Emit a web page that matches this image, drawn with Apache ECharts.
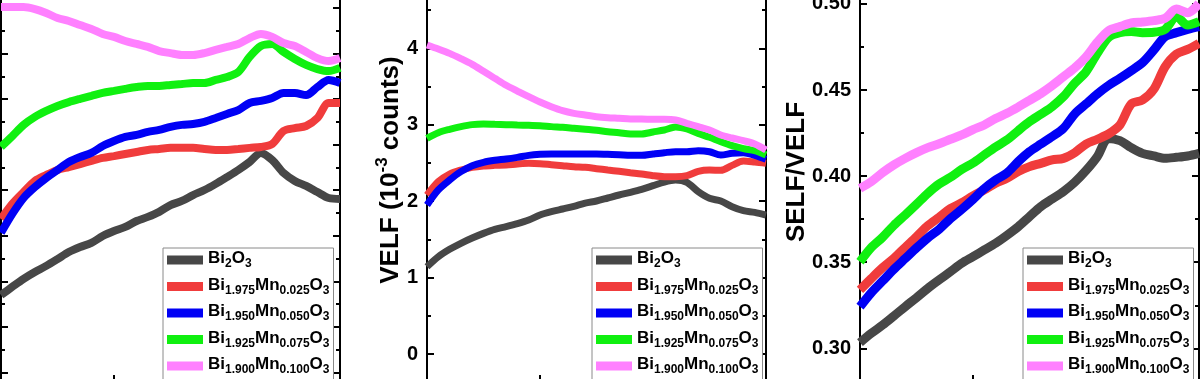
<!DOCTYPE html>
<html>
<head>
<meta charset="utf-8">
<script src="https://cdn.jsdelivr.net/npm/echarts@6/dist/echarts.min.js"></script>
<style>
html, body { margin: 0; padding: 0; background: #fff; }
#chart { width: 1200px; height: 379px; }
</style>
</head>
<body>
<div id="chart"></div>
<script>
// x positions (arbitrary energy units, axis labels are cropped in the source)
var xValues = [0, 1, 2, 3, 4, 5, 6, 7, 8, 9, 10, 11, 12, 13, 14, 15, 16, 17, 18, 19, 20, 21, 22, 23, 24, 25, 26, 27, 28, 29, 30];

var seriesNames = ['Bi2O3', 'Bi1.975Mn0.025O3', 'Bi1.950Mn0.050O3', 'Bi1.925Mn0.075O3', 'Bi1.900Mn0.100O3'];
var legendLabels = [
    '{m|Bi}{s|2}{m|O}{s|3}',
    '{m|Bi}{s|1.975}{m|Mn}{s|0.025}{m|O}{s|3}',
    '{m|Bi}{s|1.950}{m|Mn}{s|0.050}{m|O}{s|3}',
    '{m|Bi}{s|1.925}{m|Mn}{s|0.075}{m|O}{s|3}',
    '{m|Bi}{s|1.900}{m|Mn}{s|0.100}{m|O}{s|3}'
];
var colors = ['#474747', '#f03c3c', '#0000f5', '#10f010', '#ff80ff'];

// panel 1 : SELF (10^-3 counts)
var selfBi2O3 = [0.340, 0.376, 0.411, 0.441, 0.468, 0.498, 0.529, 0.551, 0.569, 0.599, 0.621, 0.639, 0.665, 0.683, 0.705, 0.735, 0.753, 0.779, 0.801, 0.828, 0.858, 0.889, 0.924, 0.964, 0.933, 0.876, 0.841, 0.819, 0.792, 0.766, 0.762];
var selfMn025 = [0.674, 0.740, 0.792, 0.841, 0.867, 0.889, 0.902, 0.915, 0.929, 0.942, 0.950, 0.959, 0.968, 0.977, 0.981, 0.986, 0.986, 0.986, 0.981, 0.977, 0.977, 0.981, 0.986, 0.990, 1.003, 1.060, 1.073, 1.082, 1.117, 1.183, 1.183];
var selfMn050 = [0.613, 0.696, 0.766, 0.814, 0.854, 0.889, 0.924, 0.946, 0.964, 0.994, 1.016, 1.034, 1.043, 1.056, 1.065, 1.078, 1.087, 1.091, 1.100, 1.117, 1.135, 1.152, 1.183, 1.192, 1.205, 1.227, 1.227, 1.218, 1.253, 1.284, 1.271];
var selfMn075 = [0.990, 1.038, 1.087, 1.122, 1.148, 1.170, 1.187, 1.201, 1.214, 1.227, 1.236, 1.245, 1.253, 1.258, 1.258, 1.262, 1.266, 1.271, 1.271, 1.284, 1.297, 1.319, 1.385, 1.433, 1.442, 1.407, 1.376, 1.350, 1.332, 1.323, 1.337];
var selfMn100 = [1.604, 1.604, 1.604, 1.595, 1.578, 1.556, 1.543, 1.525, 1.508, 1.486, 1.473, 1.455, 1.442, 1.429, 1.411, 1.402, 1.394, 1.394, 1.402, 1.416, 1.429, 1.442, 1.468, 1.486, 1.473, 1.446, 1.433, 1.407, 1.380, 1.367, 1.380];

// panel 2 : VELF (10^-3 counts)
var velfBi2O3 = [1.143, 1.274, 1.370, 1.449, 1.518, 1.579, 1.632, 1.667, 1.706, 1.754, 1.819, 1.863, 1.898, 1.933, 1.976, 2.003, 2.042, 2.081, 2.116, 2.155, 2.203, 2.251, 2.277, 2.247, 2.125, 2.038, 2.003, 1.928, 1.876, 1.854, 1.819];
var velfMn025 = [2.081, 2.256, 2.356, 2.408, 2.443, 2.461, 2.469, 2.474, 2.487, 2.496, 2.491, 2.478, 2.465, 2.452, 2.443, 2.426, 2.408, 2.391, 2.373, 2.356, 2.334, 2.321, 2.321, 2.334, 2.391, 2.408, 2.404, 2.469, 2.526, 2.513, 2.496];
var velfMn050 = [1.950, 2.147, 2.277, 2.387, 2.465, 2.509, 2.535, 2.552, 2.574, 2.600, 2.613, 2.618, 2.618, 2.618, 2.618, 2.618, 2.613, 2.609, 2.600, 2.600, 2.618, 2.635, 2.648, 2.648, 2.661, 2.648, 2.605, 2.627, 2.635, 2.600, 2.548];
var velfMn075 = [2.823, 2.897, 2.941, 2.976, 3.002, 3.010, 3.006, 3.002, 2.997, 2.993, 2.989, 2.976, 2.967, 2.954, 2.941, 2.928, 2.910, 2.897, 2.880, 2.880, 2.906, 2.932, 2.971, 2.945, 2.888, 2.836, 2.779, 2.727, 2.688, 2.661, 2.605];
var velfMn100 = [4.045, 3.992, 3.935, 3.866, 3.791, 3.700, 3.608, 3.517, 3.442, 3.368, 3.298, 3.237, 3.185, 3.150, 3.128, 3.106, 3.093, 3.085, 3.076, 3.076, 3.072, 3.072, 3.063, 3.019, 2.976, 2.932, 2.866, 2.827, 2.792, 2.749, 2.670];

// panel 3 : SELF/VELF
var ratioBi2O3 = [0.3033, 0.3087, 0.3135, 0.3188, 0.3242, 0.3294, 0.3348, 0.3397, 0.3445, 0.3494, 0.3532, 0.3571, 0.3610, 0.3656, 0.3706, 0.3765, 0.3823, 0.3867, 0.3910, 0.3964, 0.4032, 0.4113, 0.4219, 0.4206, 0.4165, 0.4132, 0.4117, 0.4103, 0.4109, 0.4117, 0.4132];
var ratioMn025 = [0.3339, 0.3405, 0.3468, 0.3523, 0.3586, 0.3648, 0.3712, 0.3761, 0.3811, 0.3845, 0.3885, 0.3920, 0.3958, 0.3987, 0.4026, 0.4055, 0.4074, 0.4094, 0.4103, 0.4136, 0.4186, 0.4214, 0.4245, 0.4297, 0.4419, 0.4442, 0.4504, 0.4635, 0.4709, 0.4736, 0.4771];
var ratioMn050 = [0.3242, 0.3323, 0.3391, 0.3459, 0.3521, 0.3583, 0.3641, 0.3691, 0.3753, 0.3807, 0.3865, 0.3927, 0.3977, 0.4018, 0.4084, 0.4142, 0.4186, 0.4229, 0.4277, 0.4361, 0.4419, 0.4477, 0.4527, 0.4568, 0.4612, 0.4659, 0.4732, 0.4810, 0.4833, 0.4852, 0.4868];
var ratioMn075 = [0.3503, 0.3585, 0.3645, 0.3714, 0.3774, 0.3836, 0.3900, 0.3954, 0.3993, 0.4039, 0.4076, 0.4123, 0.4169, 0.4210, 0.4264, 0.4316, 0.4359, 0.4403, 0.4461, 0.4539, 0.4606, 0.4713, 0.4806, 0.4833, 0.4839, 0.4833, 0.4835, 0.4852, 0.4926, 0.4877, 0.4897];
var ratioMn100 = [0.3929, 0.3968, 0.4020, 0.4065, 0.4103, 0.4136, 0.4165, 0.4188, 0.4214, 0.4239, 0.4270, 0.4297, 0.4334, 0.4365, 0.4401, 0.4440, 0.4479, 0.4525, 0.4577, 0.4628, 0.4692, 0.4777, 0.4845, 0.4868, 0.4889, 0.4895, 0.4903, 0.4916, 0.4970, 0.4949, 0.5003];

(function () {
    var FONT = 'Liberation Sans, Arial, sans-serif';
    var chart = echarts.init(document.getElementById('chart'));

    // panel layout: the source figure is cropped, so grids run past the canvas
    var panels = [
        { left: 1, top: -37.6, height: 455.7, min: -0.2, max: 1.8, interval: 0.2, labels: false, lw: 8,
          data: [selfBi2O3, selfMn025, selfMn050, selfMn075, selfMn100], legendLeft: 163 },
        { left: 427, top: -28, height: 458.4, min: -1, max: 5, interval: 1, labels: true, lw: 7,
          data: [velfBi2O3, velfMn025, velfMn050, velfMn075, velfMn100], legendLeft: 592 },
        { left: 860, top: -82.2, height: 516.6, min: 0.25, max: 0.55, interval: 0.05, labels: true, lw: 9,
          data: [ratioBi2O3, ratioMn025, ratioMn050, ratioMn075, ratioMn100], legendLeft: 1023 }
    ];

    var axisLine = { show: true, onZero: false, lineStyle: { color: '#000', width: 2 } };
    var grids = [], xAxes = [], yAxes = [], series = [], legends = [];

    panels.forEach(function (p, i) {
        grids.push({ left: p.left, top: p.top, width: 339, height: p.height, outerBoundsMode: 'none', containLabel: false });
        xAxes.push({
            type: 'value', gridIndex: i, min: 0, max: 30, interval: 10,
            offset: -(p.top + p.height - 381),
            axisLine: axisLine,
            axisTick: { inside: true, length: 6, lineStyle: { width: 2, color: '#000' } },
            axisLabel: { show: false },
            splitLine: { show: false }
        });
        ['left', 'right'].forEach(function (pos) {
            yAxes.push({
                type: 'value', gridIndex: i, position: pos,
                min: p.min, max: p.max, interval: p.interval,
                axisLine: axisLine,
                axisTick: { inside: true, length: 7, lineStyle: { width: 2, color: '#000' } },
                minorTick: { show: true, splitNumber: 2, length: 4, lineStyle: { width: 2, color: '#000' } },
                axisLabel: {
                    show: p.labels && pos === 'left',
                    margin: 9,
                    fontFamily: FONT, fontSize: 20, fontWeight: 'bold', color: '#000',
                    formatter: function (v) { return i === 2 ? v.toFixed(2) : String(Math.round(v)); }
                },
                splitLine: { show: false }
            });
        });
        p.data.forEach(function (arr, k) {
            series.push({
                name: seriesNames[k],
                type: 'line',
                xAxisIndex: i,
                yAxisIndex: i * 2,
                data: xValues.map(function (x, j) { return [x, arr[j]]; }),
                showSymbol: false,
                smooth: 0.3,
                color: colors[k],
                lineStyle: { width: p.lw, color: colors[k] },
                z: 2 + k
            });
        });
        legends.push({
            data: seriesNames,
            left: p.legendLeft, top: 248, height: 150,
            orient: 'vertical',
            selectedMode: false,
            icon: 'rect', itemWidth: 36, itemHeight: 9, itemGap: 6.5,
            padding: [2, 4, 6, 4],
            borderColor: '#8a8a8a', borderWidth: 1, backgroundColor: '#fff',
            z: 20,
            formatter: function (name) { return legendLabels[seriesNames.indexOf(name)]; },
            textStyle: {
                rich: {
                    m: { fontFamily: FONT, fontSize: 17, fontWeight: 'bold', color: '#000', lineHeight: 20, verticalAlign: 'bottom', padding: [0, 0, 3, 0] },
                    s: { fontFamily: FONT, fontSize: 12, fontWeight: 'bold', color: '#000', lineHeight: 14, verticalAlign: 'bottom' }
                }
            }
        });
    });

    var option = {
        animation: false,
        backgroundColor: '#fff',
        grid: grids,
        xAxis: xAxes,
        yAxis: yAxes,
        legend: legends,
        series: series,
        graphic: [
            {
                type: 'text', x: 389, y: 170, rotation: Math.PI / 2,
                style: {
                    text: '{m|VELF (10}{p|-3}{m| counts)}',
                    align: 'center', verticalAlign: 'middle',
                    rich: {
                        m: { fontFamily: FONT, fontSize: 26, fontWeight: 'bold', fill: '#000', lineHeight: 30, verticalAlign: 'bottom' },
                        p: { fontFamily: FONT, fontSize: 17, fontWeight: 'bold', fill: '#000', lineHeight: 30, verticalAlign: 'top' }
                    }
                }
            },
            {
                type: 'text', x: 797, y: 172, rotation: Math.PI / 2,
                style: {
                    text: 'SELF/VELF',
                    align: 'center', verticalAlign: 'middle',
                    fontFamily: FONT, fontSize: 26, fontWeight: 'bold', fill: '#000'
                }
            }
        ]
    };
    chart.setOption(option);
})();
</script>
</body>
</html>
